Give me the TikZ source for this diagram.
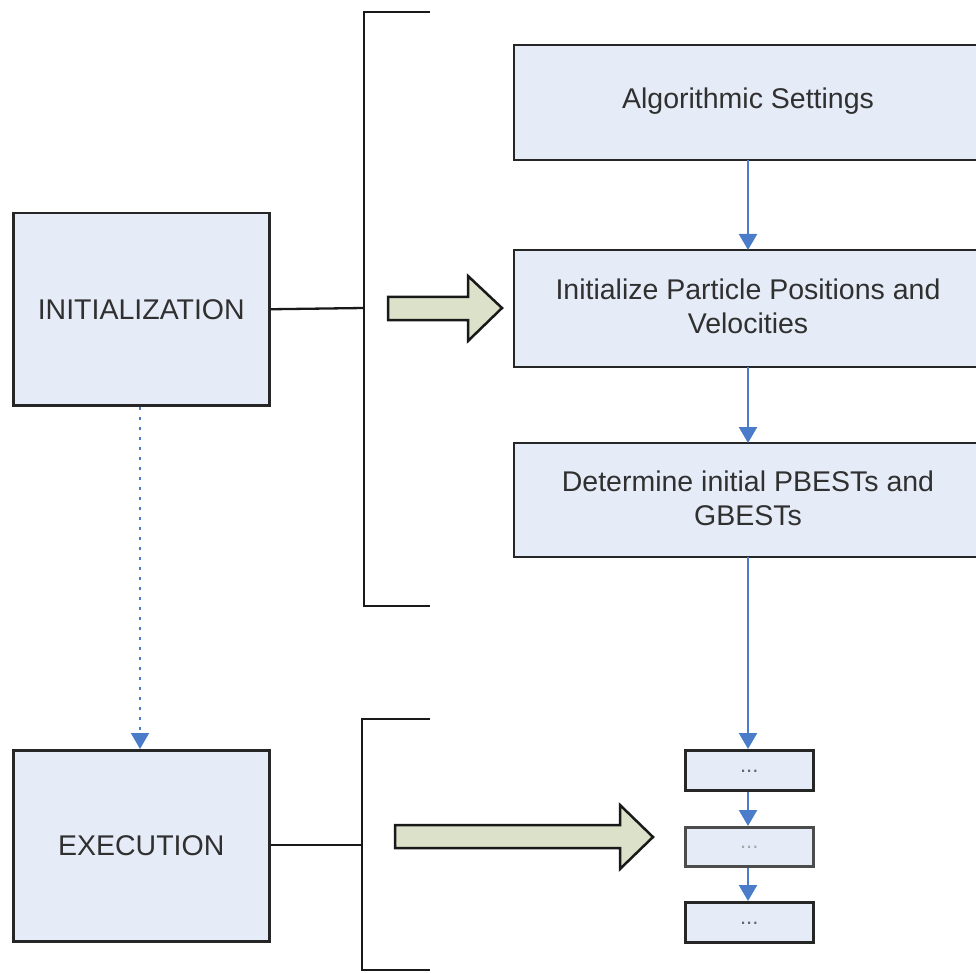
\documentclass[tikz,border=0pt]{standalone}
\usepackage{fontspec}
\setmainfont{Liberation Sans}
\usetikzlibrary{arrows.meta}
\definecolor{boxfill}{HTML}{E6ECF7}
\definecolor{arrfill}{HTML}{DCE1C9}
\definecolor{flowblue}{HTML}{4A7CC9}
\definecolor{txt}{HTML}{303030}
\tikzset{
  procbox/.style={draw=black!85, line width=2.5pt, fill=boxfill},
  bigtext/.style={font=\fontsize{28.5}{34}\selectfont, text=txt, align=center},
  flow/.style={draw=flowblue, line width=2.4pt, -{Triangle[length=16pt,width=18pt]}},
  brack/.style={draw=black!90, line width=2.3pt},
  blockarr/.style={draw=black!90, line width=2.5pt, fill=arrfill, line join=miter},
}
\begin{document}
\begin{tikzpicture}[x=1pt,y=-1pt]
\useasboundingbox (0,0) rectangle (976,973);
\begin{scope}
\clip (0,0) rectangle (976,973);
% right column boxes
\draw[procbox] (514,45) rectangle (984,160);
\node[bigtext] (algo) at (748,101) {Algorithmic Settings};
\coordinate (algoT) at (748,45); \coordinate (algoB) at (748,160);
\draw[procbox] (514,250) rectangle (984,367);
\node[bigtext] (init) at (748,306) {Initialize Particle Positions and\\Velocities};
\coordinate (initT) at (748,250); \coordinate (initB) at (748,367);
\draw[procbox] (514,443) rectangle (984,557);
\node[bigtext] (det) at (748,498) {Determine initial PBESTs and\\GBESTs};
\coordinate (detT) at (748,443); \coordinate (detB) at (748,557);
\end{scope}
% small boxes
\node[procbox, minimum width=128pt, minimum height=40pt, inner sep=0pt, anchor=north west] (s1) at (684,749) {};
\node[procbox, draw=black!70, minimum width=128pt, minimum height=39pt, inner sep=0pt, anchor=north west] (s2) at (684,826) {};
\node[procbox, minimum width=128pt, minimum height=40pt, inner sep=0pt, anchor=north west] (s3) at (684,901) {};
\foreach \n/\c in {s1/black!60,s2/black!35,s3/black!60}{
  \node[font=\fontsize{22}{24}\selectfont, text=\c] at ([yshift=-1pt]\n.center) {...};
}
% left boxes
\node[procbox, minimum width=256pt, minimum height=192pt, inner sep=0pt, anchor=north west] (initial) at (12,212) {};
\node[bigtext] at (initial.center) {INITIALIZATION};
\node[procbox, minimum width=256pt, minimum height=191pt, inner sep=0pt, anchor=north west] (exec) at (12,749) {};
\node[bigtext] at (exec.center) {EXECUTION};
% brackets
\coordinate (b1t) at (430,12); \coordinate (b1b) at (430,606);
\draw[brack] (b1t) -- (364,12) -- (364,606) -- (b1b);
\coordinate (b1m) at (364,308);
\draw[brack] (initial.east) -- (b1m);
\coordinate (b2t) at (430,719); \coordinate (b2b) at (430,970);
\draw[brack] (b2t) -- (362,719) -- (362,970) -- (b2b);
\coordinate (b2m) at (362,845);
\draw[brack] (exec.east |- b2m) -- (b2m);
% block arrows
\draw[blockarr] (388,297) -- (468,297) -- (468,276) -- (502,308) -- (468,341) -- (468,320) -- (388,320) -- cycle;
\draw[blockarr] (395,825) -- (620,825) -- (620,805) -- (653,837) -- (620,869) -- (620,848) -- (395,848) -- cycle;
% flow arrows
\draw[flow] (algoB) -- (initT);
\draw[flow] (initB) -- (detT);
\draw[flow] (detB) -- (s1.north -| detB);
\draw[flow] (s1.south -| detB) -- (s2.north -| detB);
\draw[flow] (s2.south -| detB) -- (s3.north -| detB);
\draw[flow, dash pattern=on 3pt off 7pt, line width=1.8pt] (initial.south -| 140,0) -- (exec.north -| 140,0);
\end{tikzpicture}
\end{document}
